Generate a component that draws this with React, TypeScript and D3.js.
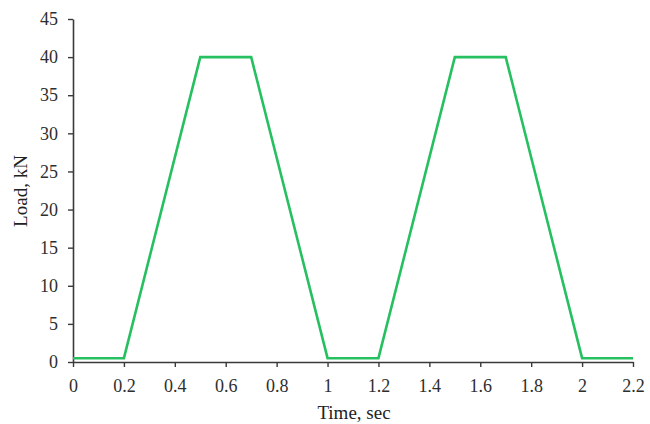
import React, { useRef, useEffect } from 'react';
import * as d3 from 'd3';

const times = [0, 0.2, 0.5, 0.7, 1.0, 1.2, 1.5, 1.7, 2.0, 2.2];
const loads = [0.5, 0.5, 40, 40, 0.5, 0.5, 40, 40, 0.5, 0.5];
const xTicks = [0, 0.2, 0.4, 0.6, 0.8, 1, 1.2, 1.4, 1.6, 1.8, 2, 2.2];
const yTicks = [0, 5, 10, 15, 20, 25, 30, 35, 40, 45];

const App = () => {
  const ref = useRef<SVGSVGElement>(null);
  const width = 650;
  const height = 424;

  useEffect(() => {
    const svg = d3.select(ref.current)
      .attr('width', width)
      .attr('height', height)
      .style('background-color', 'white')
      .style('font-family', '"Liberation Serif", "Times New Roman", serif');

    svg.selectAll('*').remove();

    const left = 73, top = 19, right = 633, bottom = 362;

    const xScale = d3.scaleLinear().domain([0, 2.2]).range([left, right]);
    const yScale = d3.scaleLinear().domain([0, 45]).range([bottom, top]);

    const xAxis = d3.axisBottom(xScale).tickValues(xTicks).tickSize(5).tickSizeOuter(0).tickPadding(12)
      .tickFormat(d => String(+(+d).toFixed(1)));
    const yAxis = d3.axisLeft(yScale).tickValues(yTicks).tickSize(5).tickSizeOuter(0).tickPadding(10);

    const xg = svg.append('g').attr('transform', `translate(0, ${bottom})`).call(xAxis);
    const yg = svg.append('g').attr('transform', `translate(${left}, 0)`).call(yAxis);

    [xg, yg].forEach(g => {
      g.select('.domain').attr('stroke', '#3a3a3a').attr('stroke-width', 1.6);
      g.selectAll('.tick line').attr('stroke', '#3a3a3a').attr('stroke-width', 1.4);
      g.selectAll('.tick text')
        .style('font-size', '18px')
        .style('font-family', '"Liberation Serif", "Times New Roman", serif')
        .attr('fill', '#2e2e2e');
    });

    // X label
    svg.append('text')
      .attr('x', 354)
      .attr('y', 419)
      .attr('text-anchor', 'middle')
      .attr('fill', '#222')
      .style('font-size', '19px')
      .text('Time, sec');

    // Y label
    svg.append('g').attr('transform', `translate(27, 191)`).append('text')
      .attr('transform', 'rotate(-90)')
      .attr('text-anchor', 'middle')
      .attr('fill', '#222')
      .style('font-size', '19px')
      .text('Load, kN');

    const line = d3.line<number>()
      .x((d, i) => xScale(times[i]))
      .y(d => yScale(d));

    svg.append('path')
      .datum(loads)
      .attr('d', line)
      .attr('fill', 'none')
      .attr('stroke', '#27c060')
      .attr('stroke-width', 2.6)
      .attr('stroke-linejoin', 'miter');
  }, []);

  return <svg ref={ref} style={{ display: 'block', position: 'absolute', left: 0, top: 0 }}></svg>;
};

export default App;
